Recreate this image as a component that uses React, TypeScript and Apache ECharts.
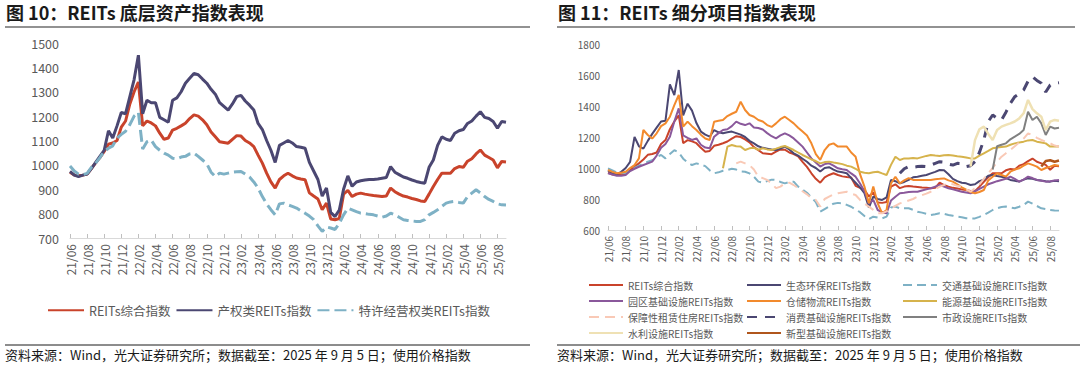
import React, { useEffect, useRef } from "react";
import * as echarts from "echarts";

// Half-monthly sample dates, 2021-06-01 ... 2025-09-01
const dates: string[] = [];
for (let y = 2021; y <= 2025; y++) {
  for (let m = 1; m <= 12; m++) {
    if (y === 2021 && m < 6) continue;
    if (y === 2025 && m > 9) break;
    const mm = m < 10 ? "0" + m : "" + m;
    dates.push(`${y}-${mm}-01`);
    if (!(y === 2025 && m === 9)) dates.push(`${y}-${mm}-16`);
  }
}

const compositeIndex = [
  970, 958, 955, 958, 962, 985, 1008, 1030, 1055, 1085,
  1090, 1100, 1155, 1180, 1250, 1300, 1340, 1160, 1180, 1172,
  1160, 1130, 1105, 1110, 1143, 1150, 1160, 1171, 1190, 1205,
  1200, 1185, 1165, 1135, 1115, 1095, 1092, 1089, 1105, 1120,
  1118, 1100, 1090, 1075, 1040, 1007, 966, 930, 905, 940,
  955, 966, 955, 946, 942, 939, 885, 872, 860, 816,
  843, 778, 775, 780, 880, 895, 870, 880, 884, 880,
  877, 874, 872, 870, 872, 905, 890, 880, 872, 868,
  862, 858, 852, 850, 880, 911, 940, 966, 966, 966,
  985, 993, 990, 1015, 1025, 1045, 1061, 1040, 1030, 1020,
  988, 1014, 1012,
];
const propertyIndex = [
  973, 958, 952, 958, 962, 985, 1010, 1035, 1060, 1140,
  1110, 1160, 1215, 1210, 1280, 1350, 1450, 1210, 1265, 1255,
  1255, 1195, 1185, 1175, 1265, 1275, 1300, 1335, 1355, 1375,
  1370, 1352, 1335, 1310, 1290, 1255, 1240, 1225, 1250, 1280,
  1285, 1262, 1245, 1225, 1170, 1145, 1100, 1060, 1010, 1080,
  1090, 1100, 1090, 1075, 1072, 1068, 1010, 975, 940, 872,
  905, 805, 788, 815, 900, 955, 912, 930, 935, 938,
  940, 940, 942, 945, 948, 993, 970, 960, 950, 945,
  938, 932, 928, 925, 990, 1020, 1080, 1115, 1105, 1100,
  1130, 1140, 1145, 1170, 1180, 1200, 1218, 1195, 1190, 1178,
  1150, 1178, 1175,
];
const franchiseIndex = [
  995, 975, 962, 960, 965, 990, 1007, 1030, 1055, 1068,
  1078, 1110, 1125, 1138, 1165, 1200, 1215, 1065, 1095, 1102,
  1075, 1060, 1048, 1040, 1027, 1025, 1032, 1035, 1045, 1048,
  1035, 1020, 1005, 970, 952, 966, 962, 966, 970, 972,
  973, 962, 950, 930, 905, 870, 840, 816, 795, 840,
  843, 836, 830, 823, 812, 802, 790, 775, 750, 727,
  745, 741, 735, 760, 795, 822, 815, 808, 802, 800,
  797, 795, 790, 785, 790, 802, 795, 785, 775, 772,
  770, 768, 768, 775, 795, 805, 816, 830, 843, 848,
  850, 846, 843, 870, 884, 898, 885, 870, 858, 850,
  840, 836, 835,
];
const ecoEnvIndex = [
  985, 965, 960, 975, 1000, 1040, 1200, 1140, 1125, 1175,
  1220, 1260, 1300, 1305, 1540, 1470, 1632, 1340, 1415, 1370,
  1290, 1235, 1215, 1202, 1245, 1230, 1224, 1230, 1235, 1225,
  1215, 1200, 1175, 1159, 1140, 1130, 1125, 1120, 1116, 1125,
  1138, 1120, 1095, 1080, 1060, 1040, 1015, 1000, 977, 1000,
  1005, 990, 977, 972, 966, 935, 905, 875, 837, 745,
  815, 800, 794, 810, 923, 915, 901, 910, 923, 940,
  944, 950, 955, 965, 975, 987, 985, 960, 930, 915,
  905, 901, 890, 895, 915, 925, 950, 955, 948, 944,
  935, 923, 918, 912, 925, 933, 930, 923, 920, 915,
  912, 918, 915,
];
const transportIndex = [
  998, 985, 970, 966, 968, 990, 1000, 1015, 1030, 1040,
  1050, 1070, 1084, 1062, 1090, 1115, 1100, 1060, 1035, 1019,
  1030, 1022, 1012, 985, 966, 972, 982, 987, 995, 990,
  978, 976, 965, 944, 912, 905, 915, 925, 923, 910,
  901, 910, 912, 880, 860, 840, 810, 780, 718, 735,
  752, 770, 775, 772, 762, 750, 732, 715, 690, 670,
  686, 680, 675, 686, 745, 751, 740, 740, 740, 730,
  718, 712, 705, 697, 702, 708, 704, 697, 692, 686,
  682, 676, 675, 675, 685, 697, 712, 729, 740, 748,
  751, 746, 740, 750, 761, 783, 770, 755, 740, 735,
  729, 726, 725,
];
const parkIndex = [
  966, 958, 950, 950, 955, 980, 995, 1008, 1019, 1030,
  1041, 1080, 1130, 1155, 1202, 1300, 1385, 1210, 1195, 1181,
  1191, 1150, 1132, 1127, 1202, 1225, 1245, 1250, 1270, 1299,
  1285, 1277, 1288, 1262, 1258, 1248, 1225, 1205, 1191, 1210,
  1224, 1210, 1191, 1165, 1138, 1100, 1062, 1035, 1009, 1025,
  1030, 1015, 998, 992, 987, 965, 944, 900, 850, 772,
  794, 729, 715, 708, 790, 815, 837, 840, 845, 847,
  847, 855, 862, 869, 880, 890, 880, 869, 862, 855,
  847, 842, 837, 850, 865, 880, 895, 905, 915, 923,
  930, 944, 930, 912, 925, 944, 935, 923, 918, 912,
  915, 920, 923,
];
const logisticsIndex = [
  987, 975, 966, 970, 976, 1000, 1019, 1062, 1245, 1213,
  1190, 1224, 1270, 1288, 1331, 1406, 1471, 1267, 1299, 1270,
  1245, 1215, 1190, 1181, 1299, 1305, 1310, 1335, 1350, 1363,
  1428, 1374, 1342, 1331, 1310, 1300, 1277, 1265, 1288, 1315,
  1331, 1310, 1288, 1260, 1235, 1210, 1159, 1090, 1052, 1116,
  1150, 1159, 1138, 1138, 1138, 1100, 1073, 960, 880, 772,
  880, 772, 708, 729, 901, 944, 901, 920, 935, 923,
  923, 923, 923, 923, 928, 930, 933, 920, 912, 895,
  875, 860, 845, 837, 845, 858, 920, 944, 966, 955,
  944, 976, 990, 998, 1015, 1030, 1020, 1009, 987, 1000,
  1009, 1019, 1015,
];
const energyStart = 26;
const energyValues = [
  998, 1138, 1148, 1140,
  1138, 1116, 1127, 1130, 1118, 1127, 1120, 1116, 1125, 1135,
  1142, 1130, 1116, 1100, 1084, 1070, 1055, 1045, 1030, 1038,
  1041, 1035, 1030, 1025, 1015, 1009, 995, 976, 970, 966,
  972, 976, 965, 955, 1020, 1073, 1052, 1062, 1062, 1065,
  1062, 1070, 1078, 1084, 1080, 1078, 1082, 1084, 1080, 1076,
  1073, 1068, 1062, 1062, 1080, 1095, 1110, 1127, 1132, 1135,
  1138, 1150, 1159, 1165, 1170, 1178, 1181, 1170, 1165, 1159,
  1138, 1140, 1138,
];
const housingStart = 29;
const housingValues = [
  1030,
  1041, 1030, 1019, 990, 944, 935, 923, 900, 870, 880,
  901, 905, 890, 870, 850, 830, 805, 794, 751, 800,
  815, 830, 837, 842, 847, 835, 826, 794, 770, 751,
  730, 708, 708, 720, 740, 755, 772, 780, 790, 800,
  815, 825, 835, 847, 862, 880, 890, 901, 895, 885,
  880, 862, 847, 870, 895, 930, 965, 1000, 1040, 1073,
  1095, 1116, 1140, 1165, 1190, 1224, 1210, 1195, 1181, 1170,
  1159, 1145, 1138,
];
const consumerStart = 66;
const consumerValues = [
  966, 995, 1009, 1005,
  1009, 1012, 1009, 1019, 1030, 1041, 1038, 1025, 1019, 1030,
  1028, 1009, 1015, 1041, 1100, 1181, 1300, 1342, 1320, 1310,
  1360, 1417, 1460, 1480, 1503, 1560, 1589, 1565, 1546, 1490,
  1535, 1546, 1550,
];
const municipalStart = 87;
const municipalValues = [
  990, 1140, 1150,
  1159, 1185, 1202, 1220, 1245, 1363, 1310, 1331, 1288, 1213,
  1267, 1255, 1260,
];
const waterStart = 82;
const waterValues = [
  1009, 1180, 1250, 1267, 1220, 1181, 1245, 1267,
  1278, 1288, 1300, 1320, 1353, 1439, 1380, 1353, 1331, 1245,
  1299, 1310, 1305,
];
const newInfraStart = 98;
const newInfraValues = [1010, 1045, 1050, 1040, 1048];

const leftTicks = { min: 700, max: 1500, interval: 100 };
const rightTicks = { min: 600, max: 1800, interval: 200 };

const leftNames = ["REITs综合指数", "产权类REITs指数", "特许经营权类REITs指数"];
const rightNames = [
  "REITs综合指数", "生态环保REITs指数", "交通基础设施REITs指数",
  "园区基础设施REITs指数", "仓储物流REITs指数", "能源基础设施REITs指数",
  "保障性租赁住房REITs指数", "消费基础设施REITs指数", "市政设施REITs指数",
  "水利设施REITs指数", "新型基础设施REITs指数",
];

const sourceText = "资料来源：Wind，光大证券研究所；数据截至：2025 年 9 月 5 日；使用价格指数";

function withStart(start: number, vals: number[]) {
  const out: (number | null)[] = [];
  for (let i = 0; i < start; i++) out.push(null);
  return out.concat(vals);
}

const FONT = "'Noto Sans CJK SC', 'Noto Sans', sans-serif";
const C = {
  red: "#C9432B",
  navy: "#4B4772",
  teal: "#7EB1C5",
  purple: "#8A589B",
  orange: "#F28A2D",
  gold: "#D6B34C",
  peach: "#F9C9B6",
  gray: "#808080",
  beige: "#EFE1B4",
  brown: "#B0561C",
};

function line(name: string, data: any[], color: string, width: number, axis: number, type: any = "solid", z = 2) {
  return {
    type: "line",
    name,
    data,
    xAxisIndex: axis,
    yAxisIndex: axis,
    symbol: "none",
    showSymbol: false,
    connectNulls: false,
    z,
    itemStyle: { color },
    lineStyle: { color, width, type, cap: "butt" },
    emphasis: { disabled: true },
  };
}

function xAxisCfg(grid: number, fontSize: number) {
  return {
    type: "category",
    gridIndex: grid,
    data: dates,
    boundaryGap: false,
    axisLine: { lineStyle: { color: "#D9D9D9", width: 1 } },
    axisTick: { show: true, inside: true, length: 4, interval: 3, lineStyle: { color: "#BFBFBF" } },
    axisLabel: {
      interval: 3,
      rotate: 90,
      color: "#595959",
      fontSize,
      fontFamily: FONT,
      margin: 6,
      formatter: (v: string) => v.slice(2, 4) + "/" + v.slice(5, 7),
    },
    splitLine: { show: false },
  };
}

function yAxisCfg(grid: number, t: any, fontSize: number, margin: number) {
  return {
    type: "value",
    gridIndex: grid,
    min: t.min,
    max: t.max,
    interval: t.interval,
    axisLine: { show: false },
    axisTick: { show: false },
    splitLine: { show: false },
    axisLabel: { color: "#595959", fontSize, fontFamily: FONT, margin, formatter: (v: number) => String(v) },
  };
}

export default function App() {
  const ref = useRef<HTMLDivElement>(null);
  useEffect(() => {
    if (!ref.current) return;
    const chart = echarts.init(ref.current, undefined, { renderer: "svg" });
    const legendText = (size: number) => ({ color: "#595959", fontSize: size, fontFamily: FONT });
    const rightLegend = (names: string[], left: number) => ({
      data: names,
      left,
      top: 279,
      padding: 0,
      orient: "vertical",
      itemWidth: 34,
      itemHeight: 10,
      itemGap: 4,
      itemStyle: { opacity: 0 },
      textStyle: { ...legendText(10), lineHeight: 12 },
      selectedMode: false,
    });
    chart.setOption({
      animation: false,
      backgroundColor: "#ffffff",
      grid: [
        { left: 70, top: 43, width: 436, height: 195, containLabel: false },
        { left: 608, top: 44, width: 451, height: 186, containLabel: false },
      ],
      xAxis: [xAxisCfg(0, 12), xAxisCfg(1, 10)],
      yAxis: [yAxisCfg(0, leftTicks, 12.5, 11), yAxisCfg(1, rightTicks, 10, 8)],
      legend: [
        {
          data: leftNames,
          left: 47,
          top: 304,
          padding: 0,
          orient: "horizontal",
          itemWidth: 36,
          itemHeight: 14,
          itemGap: 5,
          itemStyle: { opacity: 0 },
          textStyle: legendText(12.5),
          selectedMode: false,
        },
        rightLegend([rightNames[0], rightNames[3], rightNames[6], rightNames[9]], 588),
        rightLegend([rightNames[1], rightNames[4], rightNames[7], rightNames[10]], 746),
        rightLegend([rightNames[2], rightNames[5], rightNames[8]], 902),
      ],
      series: [
        line(leftNames[0], compositeIndex, C.red, 3, 0),
        line(leftNames[1], propertyIndex, C.navy, 3, 0),
        line(leftNames[2], franchiseIndex, C.teal, 3, 0, [12, 5]),
        line(rightNames[0], compositeIndex, C.red, 2, 1),
        line(rightNames[1], ecoEnvIndex, C.navy, 2, 1),
        line(rightNames[2], transportIndex, C.teal, 2, 1, [9, 5]),
        line(rightNames[3], parkIndex, C.purple, 2, 1),
        line(rightNames[4], logisticsIndex, C.orange, 2, 1),
        line(rightNames[5], withStart(energyStart, energyValues), C.gold, 2, 1),
        line(rightNames[6], withStart(housingStart, housingValues), C.peach, 2, 1, [10, 6]),
        line(rightNames[7], withStart(consumerStart, consumerValues), C.navy, 3, 1, [10, 8]),
        line(rightNames[8], withStart(municipalStart, municipalValues), C.gray, 2, 1),
        line(rightNames[9], withStart(waterStart, waterValues), C.beige, 2.5, 1),
        line(rightNames[10], withStart(newInfraStart, newInfraValues), C.brown, 2.5, 1),
      ],
      graphic: [
        { type: "text", left: 6, top: 3, style: { text: "图 10：REITs 底层资产指数表现", fontSize: 18, fontWeight: "bold", fontFamily: FONT, fill: "#1a1a1a" } },
        { type: "text", left: 558, top: 3, style: { text: "图 11：REITs 细分项目指数表现", fontSize: 18, fontWeight: "bold", fontFamily: FONT, fill: "#1a1a1a" } },
        { type: "line", shape: { x1: 5, y1: 27, x2: 530, y2: 27 }, style: { stroke: "#6e6e6e", lineWidth: 1.5 } },
        { type: "line", shape: { x1: 557, y1: 27, x2: 1075, y2: 27 }, style: { stroke: "#6e6e6e", lineWidth: 1.5 } },
        { type: "line", shape: { x1: 5, y1: 345, x2: 530, y2: 345 }, style: { stroke: "#1a1a1a", lineWidth: 1 } },
        { type: "line", shape: { x1: 557, y1: 345, x2: 1080, y2: 345 }, style: { stroke: "#1a1a1a", lineWidth: 1 } },
        { type: "text", left: 5, top: 348, style: { text: sourceText, fontSize: 13, fontFamily: FONT, fill: "#1a1a1a" } },
        { type: "text", left: 557, top: 348, style: { text: sourceText, fontSize: 13, fontFamily: FONT, fill: "#1a1a1a" } },
      ],
    });
    return () => chart.dispose();
  }, []);
  return (
    <div
      ref={ref}
      style={{ position: "absolute", left: 0, top: 0, width: 1080, height: 366, background: "#fff" }}
    />
  );
}
